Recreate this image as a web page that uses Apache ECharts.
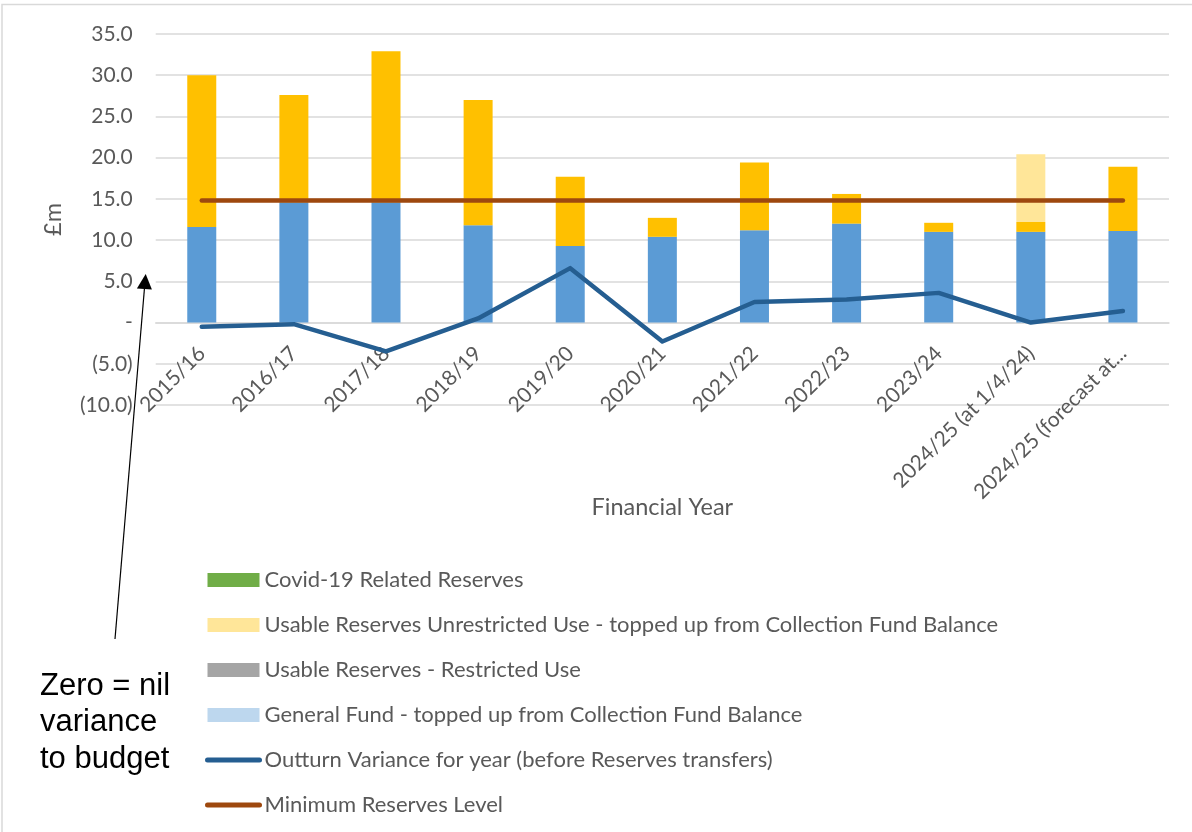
<!DOCTYPE html>
<html>
<head>
<meta charset="utf-8">
<script src="https://cdn.jsdelivr.net/npm/echarts@6/dist/echarts.min.js"></script>
<style>
html,body{margin:0;padding:0;background:#fff;}
#chart{width:1192px;height:832px;}
</style>
</head>
<body>
<div id="chart"></div>
<script>
// ---- data ----
const categories = ['2015/16','2016/17','2017/18','2018/19','2019/20','2020/21','2021/22','2022/23','2023/24','2024/25 (at 1/4/24)','2024/25 (forecast at...'];
const generalFund = [11.6, 14.6, 14.6, 11.8, 9.3, 10.4, 11.2, 12.0, 11.0, 11.0, 11.1];
const unrestrictedUse = [18.4, 13.0, 18.3, 15.2, 8.4, 2.3, 8.2, 3.6, 1.1, 1.2, 7.8];
const unrestrictedToppedUp = [0, 0, 0, 0, 0, 0, 0, 0, 0, 8.2, 0];
const covidReserves = [0, 0, 0, 0, 0, 0, 0, 0, 0, 0, 0];
const restrictedUse = [0, 0, 0, 0, 0, 0, 0, 0, 0, 0, 0];
const generalFundToppedUp = [0, 0, 0, 0, 0, 0, 0, 0, 0, 0, 0];
const outturnVariance = [-0.5, -0.2, -3.5, 0.5, 6.6, -2.3, 2.5, 2.8, 3.6, 0.0, 1.4];
const minimumReserves = [14.8, 14.8, 14.8, 14.8, 14.8, 14.8, 14.8, 14.8, 14.8, 14.8, 14.8];
const yTicks = {min: -10, max: 35, interval: 5};
const legendNames = [
  'Covid-19 Related Reserves',
  'Usable Reserves Unrestricted Use - topped up from Collection Fund Balance',
  'Usable Reserves - Restricted Use',
  'General Fund - topped up from Collection Fund Balance',
  'Outturn Variance for year (before Reserves transfers)',
  'Minimum Reserves Level'
];

const FONT = 'Lato';
const TXT = '#595959';

function barSeries(name, data, color) {
  return {
    name: name, type: 'bar', stack: 'total', data: data, barWidth: 29,
    itemStyle: {color: color}, emphasis: {disabled: true}
  };
}

const legendData = legendNames.map(function (n, i) {
  if (i < 4) return {name: n, icon: 'rect'};
  return {name: n, itemStyle: {opacity: 0}, lineStyle: {width: 5, cap: 'round'}};
});

const chart = echarts.init(document.getElementById('chart'), null, {renderer: 'canvas'});
chart.setOption({
  animation: false,
  backgroundColor: '#fff',
  textStyle: {fontFamily: FONT},
  grid: {left: 155.7, right: 23, top: 34, bottom: 427, containLabel: false},
  legend: {
    orient: 'vertical', left: 205, top: 569, padding: 0,
    itemWidth: 52, itemHeight: 14, itemGap: 23,
    data: legendData,
    textStyle: {color: TXT, fontSize: 22, fontFamily: FONT},
    selectedMode: false
  },
  xAxis: {
    type: 'category', data: categories,
    axisLine: {onZero: true, lineStyle: {color: '#D9D9D9', width: 1.5}},
    axisTick: {show: false},
    axisLabel: {
      rotate: 45, interval: 0, margin: -55, color: TXT, fontSize: 21, fontFamily: FONT,
      align: 'right', verticalAlign: 'middle'
    },
    name: 'Financial Year', nameLocation: 'middle', nameGap: 90, nameMoveOverlap: false,
    nameTextStyle: {color: TXT, fontSize: 23.5, fontFamily: FONT}
  },
  yAxis: {
    type: 'value', min: yTicks.min, max: yTicks.max, interval: yTicks.interval,
    axisLine: {show: false}, axisTick: {show: false},
    splitLine: {lineStyle: {color: '#D9D9D9', width: 1.5}},
    axisLabel: {
      margin: 23, color: TXT, fontSize: 21, fontFamily: FONT,
      formatter: function (v) {
        if (v === 0) return '-';
        if (v < 0) return '(' + Math.abs(v).toFixed(1) + ')';
        return v.toFixed(1);
      }
    },
    name: '£m', nameLocation: 'middle', nameGap: 90, nameRotate: 90, nameMoveOverlap: false,
    nameTextStyle: {color: TXT, fontSize: 23.5, fontFamily: FONT}
  },
  series: [
    barSeries('General Fund', generalFund, '#5B9BD5'),
    barSeries('Usable Reserves Unrestricted Use', unrestrictedUse, '#FFC000'),
    barSeries(legendNames[1], unrestrictedToppedUp, '#FFE699'),
    barSeries(legendNames[0], covidReserves, '#70AD47'),
    barSeries(legendNames[2], restrictedUse, '#A5A5A5'),
    barSeries(legendNames[3], generalFundToppedUp, '#BDD7EE'),
    {
      name: legendNames[4], type: 'line', data: outturnVariance, symbol: 'none',
      lineStyle: {color: '#255E91', width: 4.5, cap: 'round', join: 'round'},
      itemStyle: {color: '#255E91'}, emphasis: {disabled: true}, z: 3
    },
    {
      name: legendNames[5], type: 'line', data: minimumReserves, symbol: 'none',
      lineStyle: {color: '#9E480E', width: 4.5, cap: 'round', join: 'round'},
      itemStyle: {color: '#9E480E'}, emphasis: {disabled: true}, z: 3
    }
  ],
  graphic: [
    {type: 'rect', shape: {x: 2, y: 4.5, width: 1400, height: 1000}, style: {fill: 'none', stroke: '#D9D9D9', lineWidth: 1.5}, silent: true, z: -1},
    {type: 'line', shape: {x1: 115, y1: 639, x2: 144.4, y2: 289}, style: {stroke: '#000', lineWidth: 1.2}, silent: true},
    {type: 'polygon', shape: {points: [[145.7, 274], [136.9, 288.4], [151.9, 289.6]]}, style: {fill: '#000'}, silent: true},
    {type: 'text', left: 40, top: 668, silent: true,
     style: {text: 'Zero = nil\nvariance\nto budget', fill: '#000', font: '31px "Liberation Sans", Arial, sans-serif', lineHeight: 36.5}}
  ]
});
</script>
</body>
</html>
